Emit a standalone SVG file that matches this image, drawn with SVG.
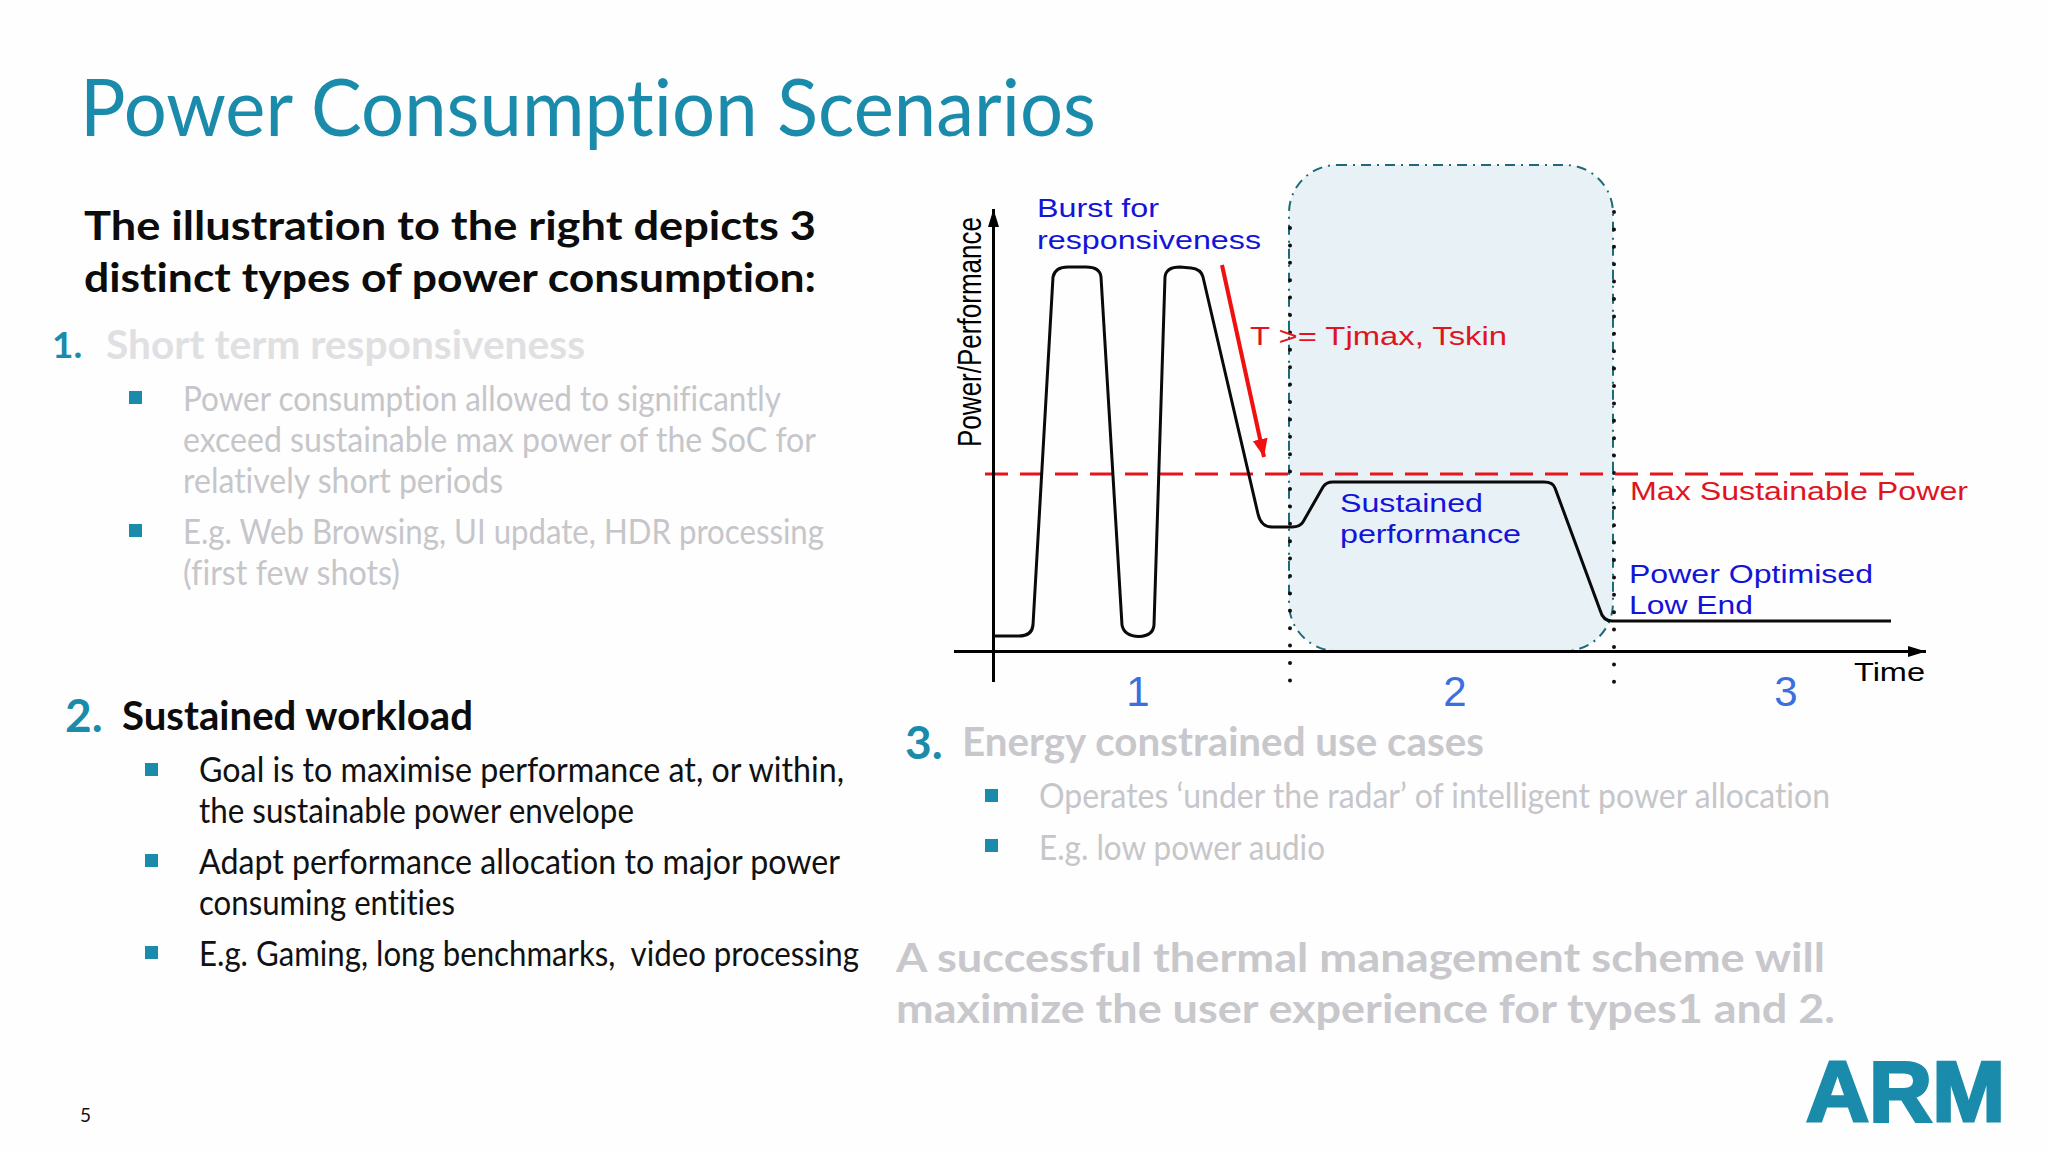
<svg xmlns="http://www.w3.org/2000/svg" width="2048" height="1152" viewBox="0 0 2048 1152">
<defs>
<style>
text{font-variant-ligatures:none}
.b{font-family:"Lato","Noto Sans",sans-serif;font-size:34px;fill:#111;white-space:pre}
.g{fill:#c6c6ca}
.h{font-family:"Lato","Noto Sans",sans-serif;font-weight:700;font-size:40px;fill:#0c0c0c}
.n{font-family:"Lato","Noto Sans",sans-serif;font-weight:700;fill:#1b8bab}
.c{font-family:"Liberation Sans",Arial,sans-serif;font-size:26px}
.blue{fill:#1414d8}.red{fill:#e0141e}
.num{font-family:"Liberation Sans",Arial,sans-serif;font-size:42px;fill:#3a6fe0;text-anchor:middle}
.sq{fill:#1b8bab}
</style>
<marker id="ah" markerUnits="userSpaceOnUse" markerWidth="20" markerHeight="14" refX="18" refY="7" orient="auto"><path d="M0 1.500L18 7L0 12.500Z" fill="#000"/></marker>
<marker id="rh" markerUnits="userSpaceOnUse" markerWidth="20" markerHeight="16" refX="18" refY="8" orient="auto"><path d="M0 0.500L18 8L0 15.500Z" fill="#f01010"/></marker>
</defs>
<rect width="2048" height="1152" fill="#fefefe"/>
<g id="title"><text x="80" y="136" font-family="Lato,'Noto Sans',sans-serif" font-size="80" fill="#1b8bab" textLength="1016" lengthAdjust="spacingAndGlyphs">Power Consumption Scenarios</text></g>
<g id="intro">
<text class="h" x="84" y="240" textLength="732" lengthAdjust="spacingAndGlyphs">The illustration to the right depicts 3</text>
<text class="h" x="84" y="292" textLength="732" lengthAdjust="spacingAndGlyphs">distinct types of power consumption:</text>
</g>
<g id="type1">
<text class="n" x="52" y="358" font-size="37">1.</text>
<text class="h" x="106" y="359" style="fill:#e0e0e3" textLength="479" lengthAdjust="spacingAndGlyphs">Short term responsiveness</text>
<rect class="sq" x="129" y="391" width="13" height="13"/>
<text class="b g" x="183" y="411" textLength="598" lengthAdjust="spacingAndGlyphs">Power consumption allowed to significantly</text>
<text class="b g" x="183" y="452" textLength="633" lengthAdjust="spacingAndGlyphs">exceed sustainable max power of the SoC for</text>
<text class="b g" x="183" y="493" textLength="320" lengthAdjust="spacingAndGlyphs">relatively short periods</text>
<rect class="sq" x="129" y="524" width="13" height="13"/>
<text class="b g" x="183" y="544" textLength="641" lengthAdjust="spacingAndGlyphs">E.g. Web Browsing, UI update, HDR processing</text>
<text class="b g" x="183" y="585" textLength="217" lengthAdjust="spacingAndGlyphs">(first few shots)</text>
</g>
<g id="type2">
<text class="n" x="65" y="732" font-size="46">2.</text>
<text class="h" x="122" y="730" textLength="351" lengthAdjust="spacingAndGlyphs">Sustained workload</text>
<rect class="sq" x="145" y="763" width="13" height="13"/>
<text class="b" x="199" y="782" textLength="645" lengthAdjust="spacingAndGlyphs">Goal is to maximise performance at, or within,</text>
<text class="b" x="199" y="823" textLength="435" lengthAdjust="spacingAndGlyphs">the sustainable power envelope</text>
<rect class="sq" x="145" y="854" width="13" height="13"/>
<text class="b" x="199" y="874" textLength="641" lengthAdjust="spacingAndGlyphs">Adapt performance allocation to major power</text>
<text class="b" x="199" y="915" textLength="256" lengthAdjust="spacingAndGlyphs">consuming entities</text>
<rect class="sq" x="145" y="946" width="13" height="13"/>
<text class="b" x="199" y="966" textLength="660" lengthAdjust="spacingAndGlyphs">E.g. Gaming, long benchmarks,  video processing</text>
</g>
<g id="type3">
<text class="n" x="905" y="759" font-size="46">3.</text>
<text class="h" x="962" y="756" style="fill:#c8c8cc" textLength="522" lengthAdjust="spacingAndGlyphs">Energy constrained use cases</text>
<rect class="sq" x="985" y="789" width="13" height="13"/>
<text class="b g" x="1039" y="808" textLength="791" lengthAdjust="spacingAndGlyphs">Operates ‘under the radar’ of intelligent power allocation</text>
<rect class="sq" x="985" y="839" width="13" height="13"/>
<text class="b g" x="1039" y="860" textLength="286" lengthAdjust="spacingAndGlyphs">E.g. low power audio</text>
</g>
<g id="conclusion">
<text class="h" x="896" y="972" style="fill:#c8c8cc" textLength="929" lengthAdjust="spacingAndGlyphs">A successful thermal management scheme will</text>
<text class="h" x="896" y="1023" style="fill:#c8c8cc" textLength="939" lengthAdjust="spacingAndGlyphs">maximize the user experience for types1 and 2.</text>
</g>
<g id="page"><text x="80" y="1122" font-family="Lato,sans-serif" font-size="19" fill="#111">5</text></g>
<g id="logo"><text x="1806" y="1121" font-family="'Liberation Sans',Arial,sans-serif" font-weight="700" font-size="85" fill="#1b8bab" stroke="#1b8bab" stroke-width="3" textLength="199" lengthAdjust="spacingAndGlyphs">ARM</text></g>
<g id="zone2"><rect x="1289" y="165" width="324" height="486" rx="48" ry="48" fill="#e7f1f6" stroke="#1b6b78" stroke-width="2" stroke-dasharray="10 6 2 6"/></g>
<g id="connectors" fill="none">
<path d="M1290 228V694M1614 212V694" stroke="#111" stroke-width="4" stroke-linecap="round" stroke-dasharray="0 17.400"/>
<path d="M985 474H1914" stroke="#e8141c" stroke-width="3" stroke-dasharray="23 12"/>
<path d="M954 651.500H1926" stroke="#000" stroke-width="3" marker-end="url(#ah)"/>
<path d="M993.500 682V209" stroke="#000" stroke-width="3" marker-end="url(#ah)"/>
<path d="M994 636H1019Q1032 636 1033 625L1053 277Q1055 267 1068 267H1086Q1100 267 1101 277L1122 625Q1124 636 1139 636.500Q1153 636 1154 625L1165 277Q1166 267 1180 267L1191 268Q1201 269 1203 277L1258 514Q1261 527 1272 527H1292Q1300 527 1303 522L1323 487Q1326 482 1333 482H1544Q1553 482 1555 488L1600 610Q1603 621 1612 621H1891" stroke="#0a0a0a" stroke-width="3"/>
<path d="M1222 265L1264 457" stroke="#f01010" stroke-width="4" marker-end="url(#rh)"/>
</g>
<g id="label-y"><text class="c" transform="translate(981 447) rotate(-90)" style="font-size:33px" fill="#000" textLength="230" lengthAdjust="spacingAndGlyphs">Power/Performance</text></g>
<g id="label-burst">
<text class="c blue" x="1037" y="217" textLength="122" lengthAdjust="spacingAndGlyphs">Burst for</text>
<text class="c blue" x="1037" y="249" textLength="224" lengthAdjust="spacingAndGlyphs">responsiveness</text>
</g>
<g id="label-temp"><text class="c red" x="1250" y="345" textLength="257" lengthAdjust="spacingAndGlyphs">T &gt;= Tjmax, Tskin</text></g>
<g id="label-sustained">
<text class="c blue" x="1340" y="512" textLength="143" lengthAdjust="spacingAndGlyphs">Sustained</text>
<text class="c blue" x="1340" y="543" textLength="181" lengthAdjust="spacingAndGlyphs">performance</text>
</g>
<g id="label-max"><text class="c red" x="1630" y="500" textLength="338" lengthAdjust="spacingAndGlyphs">Max Sustainable Power</text></g>
<g id="label-low">
<text class="c blue" x="1629" y="583" textLength="244" lengthAdjust="spacingAndGlyphs">Power Optimised</text>
<text class="c blue" x="1629" y="614" textLength="124" lengthAdjust="spacingAndGlyphs">Low End</text>
</g>
<g id="label-time"><text class="c" x="1854" y="681" fill="#000" textLength="71" lengthAdjust="spacingAndGlyphs">Time</text></g>
<g id="phase-1"><text class="num" x="1138" y="706">1</text></g>
<g id="phase-2"><text class="num" x="1455" y="706">2</text></g>
<g id="phase-3"><text class="num" x="1786" y="706">3</text></g>
</svg>
